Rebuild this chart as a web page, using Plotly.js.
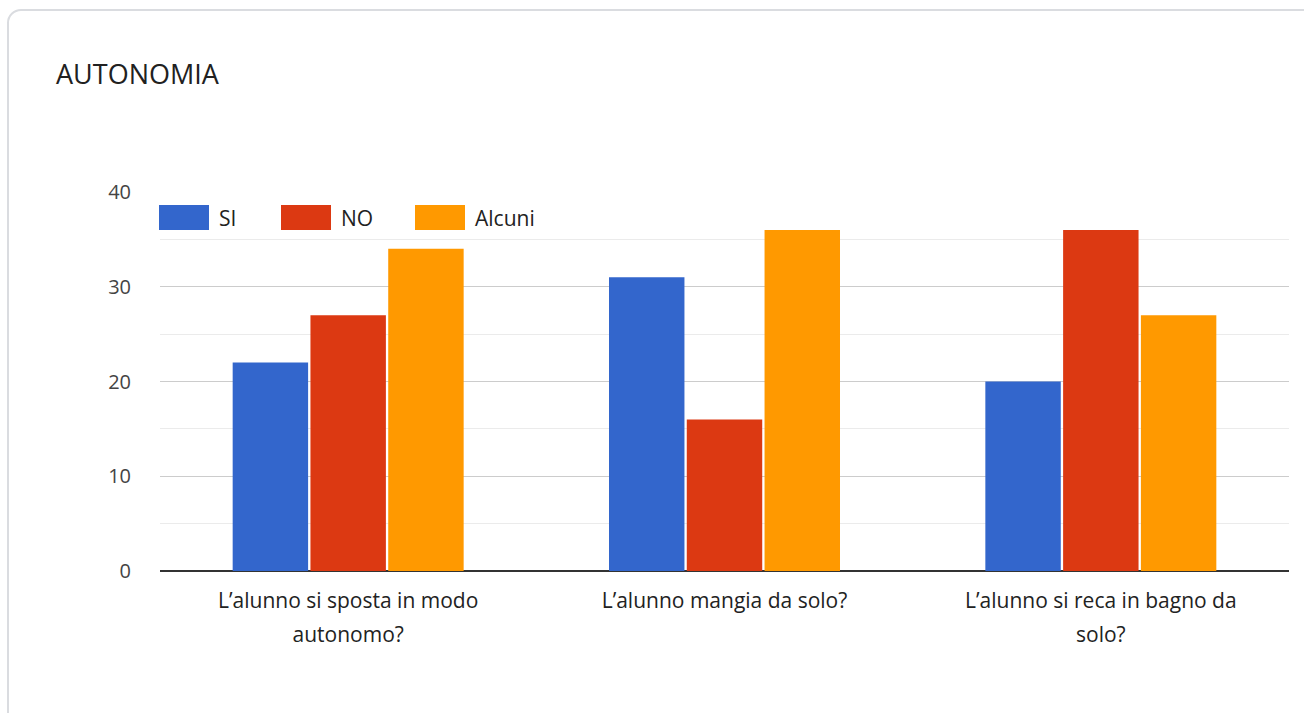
<!DOCTYPE html>
<html>
<head>
<meta charset="utf-8">
<script src="https://cdn.plot.ly/plotly-3.0.1.min.js"></script>
<style>
  html, body { margin: 0; padding: 0; background: #fff; overflow: hidden; }
  #card { position: absolute; left: 7px; top: 9px; width: 1330px; height: 740px;
          border: 2px solid #dadce0; border-radius: 14px; box-sizing: border-box; }
  #chart { position: absolute; left: 0; top: 0; width: 1304px; height: 713px; }
</style>
</head>
<body>
<div id="card"></div>
<div id="chart"></div>
<script>
const categories = [
  "L’alunno si sposta in modo<br>autonomo?",
  "L’alunno mangia da solo?",
  "L’alunno si reca in bagno da<br>solo?"
];
const seriesNames = ["SI", "NO", "Alcuni"];
const siValues = [22, 31, 20];
const noValues = [27, 16, 36];
const alcuniValues = [34, 36, 27];
const colors = ["#3366cc", "#dc3912", "#ff9900"];
const yTicks = [0, 10, 20, 30, 40];

const values = [siValues, noValues, alcuniValues];
const traces = seriesNames.map((n, i) => ({
  type: "bar",
  name: n,
  x: categories,
  y: values[i],
  marker: { color: colors[i] },
  hoverinfo: "x+y+name",
  showlegend: false
}));

const W = 1304, H = 713;
const margin = { l: 160, r: 15, t: 192, b: 142 };
const pw = W - margin.l - margin.r;
const ph = H - margin.t - margin.b;
const px2x = p => (p - margin.l) / pw;
const px2y = p => (H - margin.b - p) / ph;

// custom legend (wide swatches like the reference)
const shapes = [];
const annotations = [];
const legendStarts = [159, 281, 415];
seriesNames.forEach((n, i) => {
  const x0 = legendStarts[i];
  shapes.push({
    type: "rect", xref: "paper", yref: "paper",
    x0: px2x(x0), x1: px2x(x0 + 50), y0: px2y(230), y1: px2y(205),
    fillcolor: colors[i], line: { width: 0 }
  });
  annotations.push({
    xref: "paper", yref: "paper", x: px2x(x0 + 58), y: px2y(218),
    xanchor: "left", yanchor: "middle", showarrow: false,
    text: n, font: { family: "Open Sans, sans-serif", size: 21, color: "#222" }
  });
});

const layout = {
  width: W, height: H,
  margin: margin,
  paper_bgcolor: "rgba(0,0,0,0)",
  plot_bgcolor: "rgba(0,0,0,0)",
  title: {
    text: "AUTONOMIA",
    xref: "container", yref: "container",
    x: 56 / W, xanchor: "left",
    y: 1 - 75 / H, yanchor: "middle",
    font: { family: "Open Sans, sans-serif", size: 27, color: "#212121" }
  },
  barmode: "group",
  bargap: 0.38,
  bargroupgap: 0.03,
  xaxis: {
    tickvals: categories,
    ticktext: categories.map(c => '<span style="font-size:21px">' + c + '</span>'),
    tickfont: { family: "Open Sans, sans-serif", size: 26, color: "#222" },
    showgrid: false,
    showline: false,
    ticks: "",
    ticklabelstandoff: 10,
    zeroline: false,
    fixedrange: true
  },
  yaxis: {
    range: [0, 40],
    tickvals: yTicks,
    tickfont: { family: "Open Sans, sans-serif", size: 20, color: "#444" },
    showgrid: true,
    gridcolor: "#cccccc",
    gridwidth: 1,
    minor: { dtick: 5, showgrid: true, gridcolor: "#ebebeb", gridwidth: 1 },
    zeroline: true,
    zerolinecolor: "#333333",
    zerolinewidth: 2,
    ticks: "",
    ticklabelstandoff: 28,
    fixedrange: true
  },
  shapes: shapes,
  annotations: annotations,
  font: { family: "Open Sans, sans-serif" }
};

Plotly.newPlot("chart", traces, layout, { displayModeBar: false, staticPlot: false });
</script>
</body>
</html>
